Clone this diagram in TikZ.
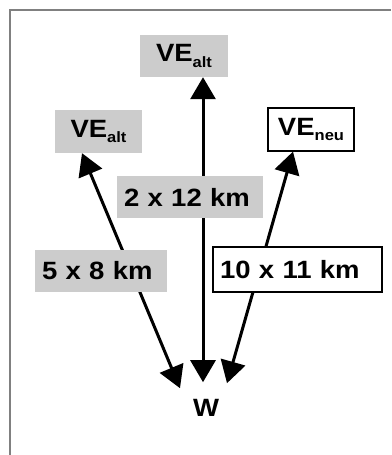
\documentclass[tikz,border=0pt]{standalone}
\usepackage{fontspec}
\setmainfont[FakeStretch=1.1]{Liberation Sans}
\usepackage{tikz}
\usetikzlibrary{calc, positioning, arrows.meta}
\definecolor{oldBg}{RGB}{204, 204, 204}
\definecolor{frameGray}{RGB}{128, 128, 128}
\newcommand{\vesite}[1]{VE\raisebox{-5.5pt}{\fontsize{15}{15}\selectfont #1}}

\begin{document}
\begin{tikzpicture}[x=1pt, y=1pt, >={Triangle[width=25pt, length=22pt]},
    font=\bfseries\fontsize{25}{30}\selectfont,
    site/.style={inner sep=0pt, minimum width=87pt, minimum height=42pt,
                 font=\bfseries\fontsize{25}{28}\selectfont},
    dist/.style={inner xsep=7pt, inner ysep=0pt, align=left, minimum height=42pt},
    link/.style={<->, line width=3pt}]
  \useasboundingbox (0,0) rectangle (391,455);
  \draw[frameGray, line width=1.2pt] (10,0) -- (10,445) -- (391,445);

  % sites
  \node[site, fill=oldBg, minimum width=88pt] (altTop) at (184,399) {\vesite{alt}};
  \node[site, fill=oldBg, minimum height=43pt] (altLeft) at (98.5,323.5) {\vesite{alt}};
  \node[site, draw, line width=1.2pt, fill=white, minimum width=86pt,
        minimum height=43pt] (neu) at (311,325.5) {\vesite{neu}};
  \node[inner sep=0pt] (W) at (206,47) {W};

  % arrow ends
  \coordinate (topEnd) at ([xshift=19pt]altTop.south);
  \coordinate (leftEnd) at ([xshift=-16.5pt]altLeft.south);
  \coordinate (rightEnd) at ([xshift=-18pt]neu.south);
  \coordinate (wTop) at ([shift={(-3pt,17pt)}]W.north);
  \coordinate (wLeft) at ([shift={(-26pt,11pt)}]W.north);
  \coordinate (wRight) at ([shift={(21pt,16pt)}]W.north);

  \draw[link] (wTop) -- (wTop |- topEnd);
  \draw[link] (wLeft) -- (leftEnd);
  \draw[link] (wRight) -- (rightEnd);

  % distances
  \node[dist, fill=oldBg, text width=132pt] (dMid) at (190,257.5) {2 x 12 km};
  \node[dist, fill=oldBg, text width=118pt] (dLeft) at (101,184) {5 x 8 km};
  \node[dist, draw, line width=1.2pt, fill=white, text width=155pt,
        minimum height=45pt] (dRight) at (297.5,185.5) {10 x 11 km};
\end{tikzpicture}
\end{document}
